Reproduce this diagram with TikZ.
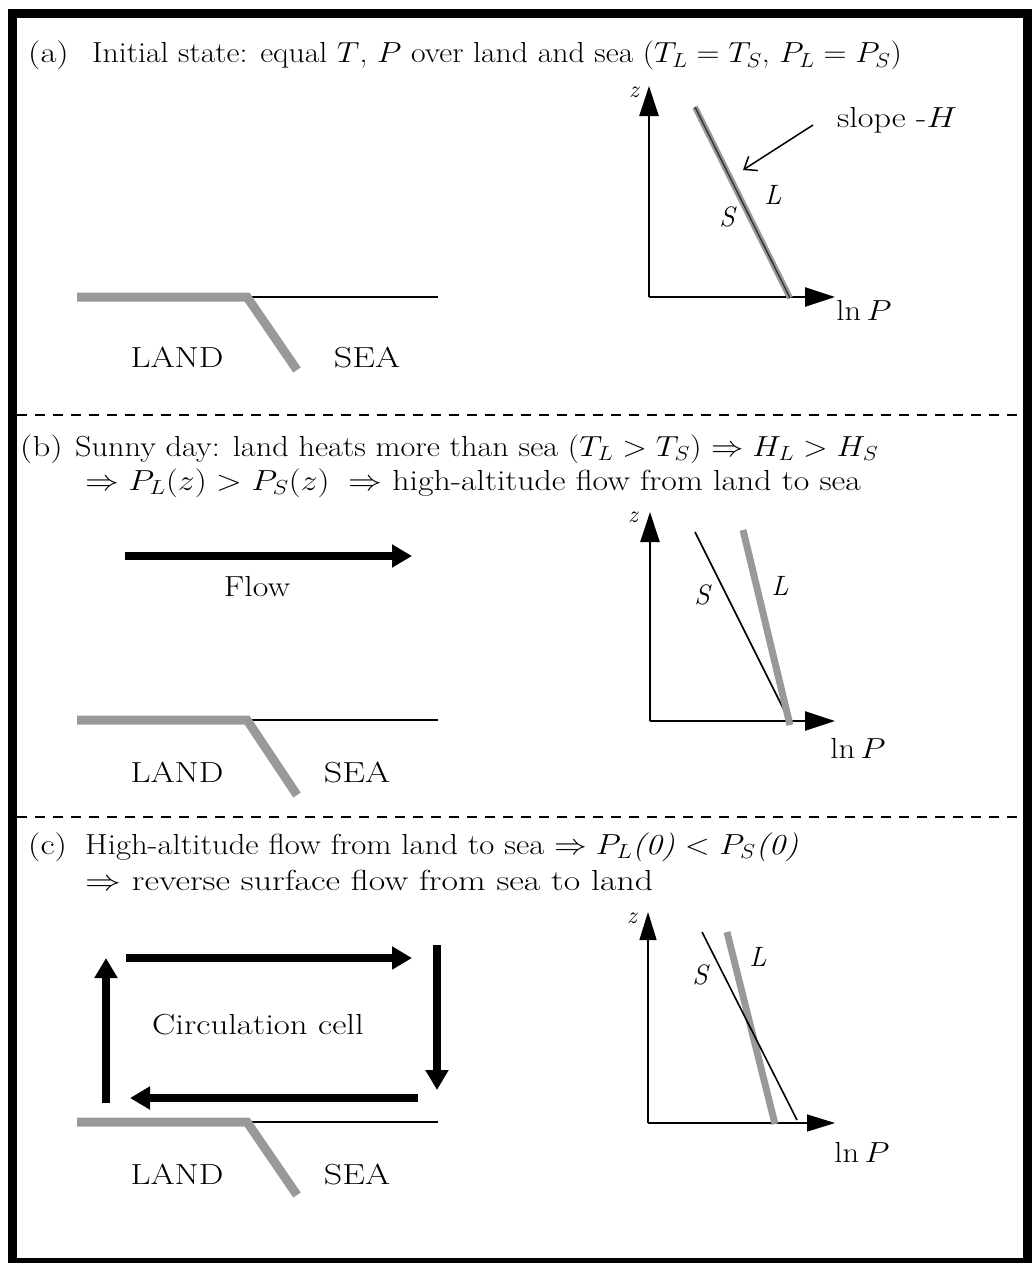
\RequirePackage{fix-cm}
\documentclass[tikz,border=0pt]{standalone}
\usetikzlibrary{arrows.meta}
\newcommand{\sx}[2]{\scalebox{#1}[1]{#2}}
\begin{document}
\begin{tikzpicture}[x=1pt,y=-1pt,
  txt/.style={font=\fontsize{29}{34}\selectfont, inner sep=0pt},
  lbl/.style={font=\fontsize{29}{34}\selectfont, inner sep=0pt},
  var/.style={font=\fontsize{28}{32}\selectfont\itshape, inner sep=0pt},
  zlab/.style={font=\fontsize{24}{28}\selectfont\itshape, inner sep=0pt},
  landline/.style={line width=9pt, draw=black!40},
  sealine/.style={line width=2pt},
  axis/.style={line width=2.5pt, -{Triangle[length=30pt,width=19pt]}},
  thinaxis/.style={line width=1.3pt, -{Triangle[length=28pt,width=17pt]}},
  bigarrow/.style={line width=8pt, -{Triangle[length=20pt,width=22pt]}},
  divider/.style={line width=2.5pt, dash pattern=on 10pt off 8pt},
  sline/.style={line width=1.6pt},
  lline/.style={line width=7pt, draw=black!40}]
\useasboundingbox (0,0) rectangle (1032,1263);
% frame
\draw[line width=9pt] (12.5,14) rectangle (1027.5,1262);
\draw[divider] (17,415) -- (1023,415);
\draw[divider] (17,817) -- (1023,817);

% ---------- panel (a)
\node[txt, anchor=base west] (ha) at (28,63) {\sx{1.2}{(a)}};
\node[txt, anchor=base west] (ta) at (92,63) {\sx{1.096}{Initial state: equal $T$, $P$ over land and sea ($T_L = T_S$, $P_L = P_S$)}};
\coordinate (al0) at (77,297);
\coordinate (ac) at (247,297);
\coordinate (as) at (297,370);
\coordinate (ae) at (438,297);
\draw[sealine] (ac) -- (ae);
\draw[landline] (al0) -- (ac) -- (as);
\node[lbl] (aland) at (177,357) {\sx{1.2}{LAND}};
\node[lbl] (asea) at (367,357) {\sx{1.25}{SEA}};
\coordinate (ao) at (649,297);
\coordinate (az) at (649,86);
\coordinate (ap) at (835,297);
\draw[axis] (ao) -- (az);
\draw[axis] (ao) -- (ap);
\node[zlab] (azl) at (634,92) {z};
\node[txt] (apl) at (864,310) {\sx{1.12}{$\ln P$}};
\coordinate (at) at (695,107);
\coordinate (ab) at (790,298);
\draw[line width=6pt, draw=black!40] (at) -- (ab);
\draw[line width=1.4pt, draw=black!80] (at) -- (ab);
\node[txt] (aslope) at (897,120) {\sx{1.18}{slope -$H$}};
\coordinate (aarr) at (813,125);
\coordinate (aarh) at (743,170);
\draw[line width=1.5pt, -{Straight Barb[length=11pt,width=17pt]}] (aarr) -- (aarh);
\node[var] (aL) at (773,195) {L};
\node[var] (aS) at (727,217) {S};

% ---------- panel (b)
\node[txt, anchor=base west] (hb) at (20,456) {\sx{1.2}{(b)}};
\node[txt, anchor=base west] (tb) at (75,456) {\sx{1.113}{Sunny day: land heats more than sea ($T_L > T_S$) $\Rightarrow H_L > H_S$}};
\node[txt, anchor=base west] (tb2) at (85,490) {\sx{1.165}{$\Rightarrow P_L(z) > P_S(z)\;\Rightarrow$ high-altitude flow from land to sea}};
\coordinate (fs) at (125,556);
\coordinate (fe) at (412,556);
\draw[bigarrow] (fs) -- (fe);
\node[lbl] (flow) at (257,587) {\sx{1.17}{Flow}};
\coordinate (bl0) at (77,720);
\coordinate (bc) at (247,720);
\coordinate (bs) at (297,795);
\coordinate (be) at (438,720);
\draw[sealine] (bc) -- (be);
\draw[landline] (bl0) -- (bc) -- (bs);
\node[lbl] (bland) at (177,772) {\sx{1.2}{LAND}};
\node[lbl] (bsea) at (357,772) {\sx{1.25}{SEA}};
\coordinate (bo) at (650,721);
\coordinate (bz) at (650,512);
\coordinate (bp) at (835,721);
\draw[axis] (bo) -- (bz);
\draw[axis] (bo) -- (bp);
\node[zlab] (bzl) at (633,517) {z};
\node[txt] (bpl) at (858,748) {\sx{1.12}{$\ln P$}};
\coordinate (bst) at (695,532);
\coordinate (bsb) at (785,712);
\coordinate (blt) at (743,530);
\coordinate (blb) at (790,725);
\draw[sline] (bst) -- (bsb);
\draw[lline] (blt) -- (blb);
\node[var] (bS) at (702,595) {S};
\node[var] (bL) at (780,586) {L};

% ---------- panel (c)
\node[txt, anchor=base west] (hc) at (28,854) {\sx{1.2}{(c)}};
\node[txt, anchor=base west] (tc) at (85,854) {\sx{1.127}{High-altitude flow from land to sea $\Rightarrow P_L$\textit{(0)} $<$ $P_S$\textit{(0)}}};
\node[txt, anchor=base west] (tc2) at (85,890) {\sx{1.235}{$\Rightarrow$ reverse surface flow from sea to land}};
\coordinate (c1) at (126,958);
\coordinate (c2) at (412,958);
\coordinate (c3) at (437,945);
\coordinate (c4) at (437,1090);
\coordinate (c5) at (418,1098);
\coordinate (c6) at (130,1098);
\coordinate (c7) at (106,1103);
\coordinate (c8) at (106,958);
\draw[bigarrow] (c1) -- (c2);
\draw[bigarrow] (c3) -- (c4);
\draw[bigarrow] (c5) -- (c6);
\draw[bigarrow] (c7) -- (c8);
\node[lbl] (cell) at (258,1025) {\sx{1.2}{Circulation cell}};
\coordinate (cl0) at (77,1122);
\coordinate (cc) at (247,1122);
\coordinate (cs) at (297,1195);
\coordinate (ce) at (438,1122);
\draw[sealine] (cc) -- (ce);
\draw[landline] (cl0) -- (cc) -- (cs);
\node[lbl] (cland) at (177,1174) {\sx{1.2}{LAND}};
\node[lbl] (csea) at (357,1174) {\sx{1.25}{SEA}};
\coordinate (co) at (648,1123);
\coordinate (cz) at (648,912);
\coordinate (cp) at (835,1123);
\draw[thinaxis] (co) -- (cz);
\draw[thinaxis] (co) -- (cp);
\node[zlab] (czl) at (632,918) {z};
\node[txt] (cpl) at (862,1152) {\sx{1.12}{$\ln P$}};
\coordinate (cst) at (702,932);
\coordinate (csb) at (797,1120);
\coordinate (clt) at (727,932);
\coordinate (clb) at (775,1124);
\draw[lline] (clt) -- (clb);
\draw[sline] (cst) -- (csb);
\node[var] (cS) at (700,975) {S};
\node[var] (cL) at (758,957) {L};
\end{tikzpicture}
\end{document}
